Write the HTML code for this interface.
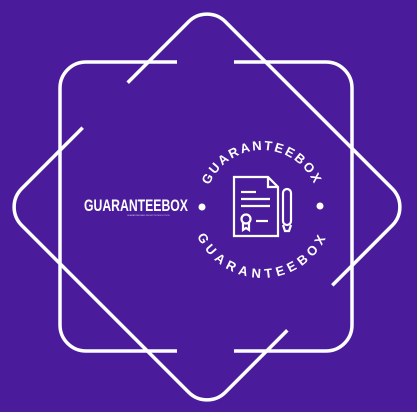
<!DOCTYPE html>
<html><head><meta charset="utf-8"><style>
html,body{margin:0;padding:0;background:#4a1c9b;}
svg{display:block}
</style></head><body>
<svg width="417" height="412" viewBox="0 0 417 412" xmlns="http://www.w3.org/2000/svg">
<rect width="417" height="412" fill="#4a1c9b"/>
<g fill="none" stroke="#fff" stroke-width="3.5" stroke-linecap="round">
<rect x="60" y="62" width="292" height="289" rx="26"/>
<rect x="63" y="63" width="288" height="288" rx="26" transform="rotate(45 207 207)"/>
</g>
<g stroke="#4a1c9b" stroke-width="12">
<line x1="177" y1="62" x2="234" y2="62"/>
<line x1="177" y1="351" x2="234" y2="351"/>
<line x1="128" y1="83" x2="83" y2="128"/>
<line x1="332" y1="285" x2="287" y2="330"/>
</g>
<text x="0" y="0" transform="translate(84 211) scale(0.72 1)" font-family="Liberation Sans, sans-serif" font-weight="bold" font-size="17" fill="#fff">GUARANTEEBOX</text>
<text x="127" y="216" font-family="Liberation Sans, sans-serif" font-size="2" fill="#d8c8f0">GUARANTEES AND RECEIPTS REVOLUTION</text>
<defs>
<path id="topArc" d="M 205 207 A 57 57 0 0 1 319 207"/>
<path id="botArc" d="M 201 207 A 61 61 0 0 0 323 207"/>
</defs>
<text font-family="Liberation Sans, sans-serif" font-weight="bold" font-size="13" fill="#fff" letter-spacing="2"><textPath href="#topArc" startOffset="50%" text-anchor="middle">GUARANTEEBOX</textPath></text>
<text font-family="Liberation Sans, sans-serif" font-weight="bold" font-size="13" fill="#fff" letter-spacing="2.6" dominant-baseline="hanging"><textPath href="#botArc" startOffset="50%" text-anchor="middle">GUARANTEEBOX</textPath></text>
<circle cx="202" cy="207" r="3.5" fill="#fff"/>
<circle cx="320" cy="206" r="3.5" fill="#fff"/>
<g fill="none" stroke="#fff" stroke-width="2.2">
<path d="M234 177 H268 L278 187 V236 H234 Z"/>
<path d="M268 177 V187 H278"/>
<line x1="241" y1="192" x2="256" y2="192"/>
<line x1="241" y1="199" x2="270" y2="199"/>
<line x1="241" y1="206" x2="270" y2="206"/>
<circle cx="246" cy="219" r="4.5"/>
<path d="M243 223 V230 L246 228 L249 230 V223"/>
<line x1="256" y1="221" x2="268" y2="221"/>
</g>
<g fill="none" stroke="#fff" stroke-width="2.2">
<rect x="283" y="189" width="8" height="36" rx="4"/>
<path d="M283 225 L285 231 H289 L291 225"/>
</g>
</svg>
</body></html>
